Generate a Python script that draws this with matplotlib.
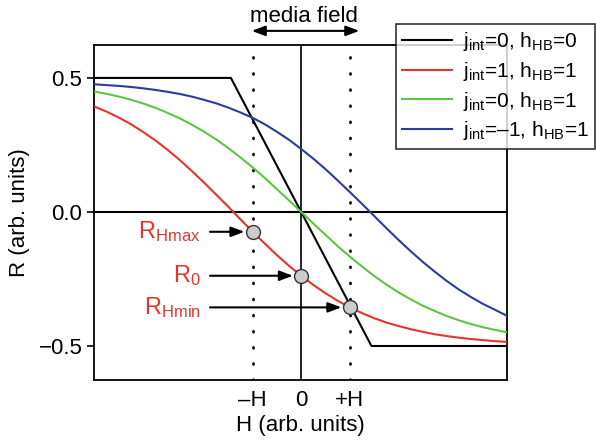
import numpy as np
import matplotlib
matplotlib.use('Agg')
import matplotlib.pyplot as plt

plt.rcParams['font.family'] = ['Liberation Sans', 'DejaVu Sans']
plt.rcParams['mathtext.fontset'] = 'custom'
plt.rcParams['mathtext.rm'] = 'Liberation Sans'
plt.rcParams['mathtext.it'] = 'Liberation Sans'

# field values in units of H
h = [-4.25, -4.0, -3.75, -3.5, -3.25, -3.0, -2.75, -2.5, -2.25, -2.0, -1.75, -1.5,
     -1.25, -1.0, -0.75, -0.5, -0.25, 0.0, 0.25, 0.5, 0.75, 1.0, 1.25, 1.5,
     1.75, 2.0, 2.25, 2.5, 2.75, 3.0, 3.25, 3.5, 3.75, 4.0, 4.25]
# values
r_red = [0.392, 0.373, 0.351, 0.326, 0.297, 0.266, 0.231, 0.193, 0.152, 0.109, 0.064, 0.019,
         -0.028, -0.074, -0.118, -0.161, -0.201, -0.238, -0.272, -0.303, -0.331, -0.356, -0.377, -0.396,
         -0.412, -0.425, -0.437, -0.447, -0.456, -0.463, -0.469, -0.474, -0.478, -0.482, -0.485]
r_green = [0.449, 0.440, 0.430, 0.418, 0.404, 0.388, 0.369, 0.349, 0.325, 0.299, 0.270, 0.238,
           0.203, 0.166, 0.127, 0.085, 0.043, 0.0, -0.043, -0.085, -0.127, -0.166, -0.203, -0.238,
           -0.270, -0.299, -0.325, -0.349, -0.369, -0.388, -0.404, -0.418, -0.430, -0.440, -0.449]
r_blue = [0.476, 0.473, 0.470, 0.466, 0.461, 0.455, 0.448, 0.440, 0.430, 0.418, 0.405, 0.389,
          0.371, 0.351, 0.327, 0.299, 0.269, 0.235, 0.199, 0.160, 0.118, 0.075, 0.031, -0.014,
          -0.059, -0.103, -0.145, -0.185, -0.222, -0.257, -0.289, -0.317, -0.343, -0.365, -0.388]
h_black = [-4.26, -1.45, 1.45, 4.26]
r_black = [0.5, 0.5, -0.5, -0.5]

labels = [r'j$_{\mathregular{int}}$=0, h$_{\mathregular{HB}}$=0',
          r'j$_{\mathregular{int}}$=1, h$_{\mathregular{HB}}$=1',
          r'j$_{\mathregular{int}}$=0, h$_{\mathregular{HB}}$=1',
          'j$_{\\mathregular{int}}$=\u20131, h$_{\\mathregular{HB}}$=1']
colors = ['black', '#e5352b', '#5cc542', '#2b3d9c']

# points marked on the red curve
pt_h = [-1.0, 0.0, 1.0]
pt_r = [r_red[h.index(v)] for v in pt_h]
pt_names = [r'$\mathregular{R_{Hmax}}$', r'$\mathregular{R_0}$', r'$\mathregular{R_{Hmin}}$']

fig = plt.figure(figsize=(5.96, 4.45), dpi=100)
ax = fig.add_axes([0.158, 0.146, 0.693, 0.753])

ax.axhline(0, color='black', lw=1.5, zorder=1)
ax.axvline(0, color='black', lw=1.2, zorder=1)
for xv in (-1, 1):
    ax.axvline(xv, color='black', lw=2.0, ls=(0, (0.3, 5.5)),
               dash_capstyle='round', zorder=1)

ax.plot(h_black, r_black, color=colors[0], lw=1.5, label=labels[0], zorder=3)
ax.plot(h, r_red, color=colors[1], lw=1.5, label=labels[1], zorder=3)
ax.plot(h, r_green, color=colors[2], lw=1.5, label=labels[2], zorder=3)
ax.plot(h, r_blue, color=colors[3], lw=1.5, label=labels[3], zorder=3)

ax.plot(pt_h, pt_r, 'o', ms=10, mfc='#cccccc', mec='#333333', mew=1.0, zorder=5)

for xv, yv, name in zip(pt_h, pt_r, pt_names):
    ax.annotate('', xy=(xv - 0.17, yv), xytext=(-1.88, yv),
                arrowprops=dict(arrowstyle='-|>,head_length=0.8,head_width=0.3',
                                color='black', lw=1.5, shrinkA=0, shrinkB=0))
    ax.text(-2.08, yv, name, color='#e5352b', fontsize=17, ha='right', va='center')

ax.set_xlim(-4.27, 4.25)
ax.set_ylim(-0.627, 0.623)
ax.set_xticks([-1, 0, 1])
ax.set_xticklabels(['\u2013H', '0', '+H'])
ax.set_yticks([-0.5, 0.0, 0.5])
ax.set_yticklabels(['\u22120.5', '0.0', '0.5'])
ax.tick_params(axis='x', length=0, labelsize=16, pad=7)
ax.tick_params(axis='y', length=5, width=1.2, labelsize=16, direction='out')
for s in ax.spines.values():
    s.set_linewidth(1.3)
ax.set_xlabel('H (arb. units)', fontsize=16, labelpad=3)
ax.set_ylabel('R (arb. units)', fontsize=16, labelpad=6)

# media field marker above the axes
ax.annotate('', xy=(-1.02, 1.042), xytext=(1.2, 1.042),
            xycoords=('data', 'axes fraction'), textcoords=('data', 'axes fraction'),
            arrowprops=dict(arrowstyle='<|-|>,head_length=0.8,head_width=0.3',
                            color='black', lw=1.5, shrinkA=0, shrinkB=0))
ax.text(0.05, 1.054, 'media field', transform=ax.get_xaxis_transform(),
        ha='center', va='bottom', fontsize=16)

leg = fig.legend(loc='upper right', bbox_to_anchor=(0.998, 1 - 24 / 445),
                 fontsize=15, frameon=True, fancybox=False, handlelength=2.4,
                 handletextpad=0.5, labelspacing=0.32, borderpad=0.3,
                 borderaxespad=0)
leg.get_frame().set_edgecolor('black')
leg.get_frame().set_linewidth(1.2)
leg.set_zorder(10)

fig.savefig('out.png', dpi=100)
